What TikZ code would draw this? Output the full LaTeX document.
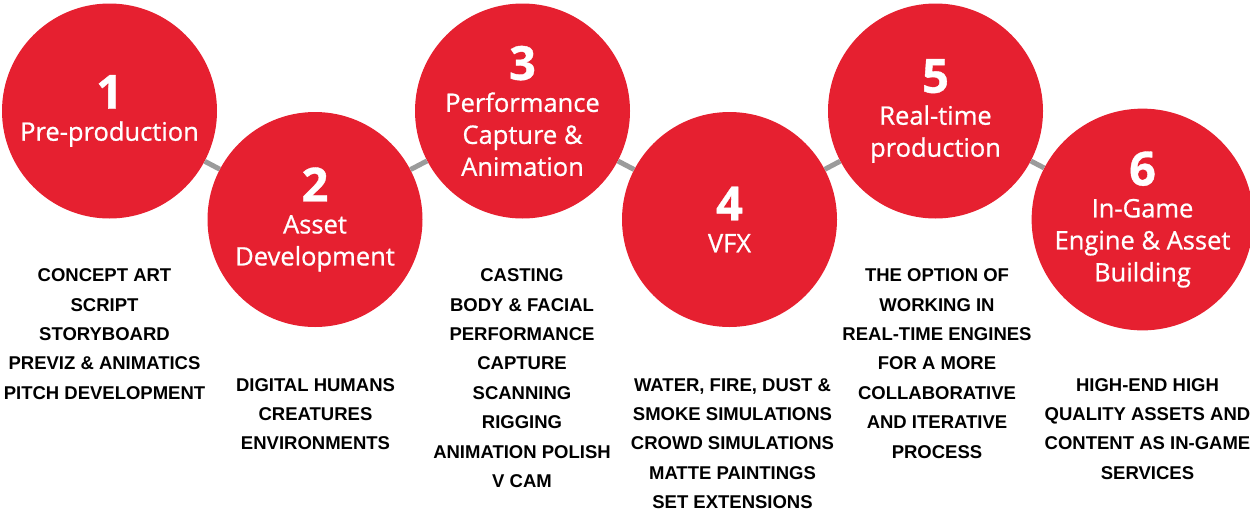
\documentclass[tikz,border=0pt]{standalone}
\usepackage{fontspec}
\setmainfont{Liberation Sans}
\newfontfamily\labelfont[FakeBold=0.8]{Open Sans}
\usetikzlibrary{calc}
\definecolor{stagered}{RGB}{230,32,48}
\definecolor{linkgray}{RGB}{155,155,155}
\newcommand\stagenum[1]{{\fontsize{47}{32}\selectfont\bfseries #1}}

\begin{document}
\begin{tikzpicture}
  [
    x=1pt, y=-1pt,
    stage/.style =
      {circle, fill=stagered, text=white, minimum size=215pt, inner sep=0pt,
       align=center, font=\labelfont\fontsize{25.5}{32}\selectfont},
    link/.style =
      {draw=linkgray, line width=5pt},
    notes/.style =
      {anchor=north, align=center, inner sep=0pt,
       font=\bfseries\fontsize{18.5}{29.4}\selectfont}
  ]

\useasboundingbox (0,0) rectangle (1250,517);

\node[stage] (c1) at (109.5,111)   {\stagenum{1}\\Pre-production};
\node[stage] (c2) at (315,219.5)   {\stagenum{2}\\Asset\\Development};
\node[stage] (c3) at (522.5,111)   {\stagenum{3}\\Performance\\Capture \&\\Animation};
\node[stage] (c4) at (729.5,219.5) {\stagenum{4}\\VFX};
\node[stage] (c5) at (935.5,111)   {\stagenum{5}\\Real-time\\production};
\node[stage] (c6) at (1142.5,219.5){\stagenum{6}\\In-Game\\Engine \& Asset\\Building};

\draw[link] (c1) -- (c2);
\draw[link] (c2) -- (c3);
\draw[link] (c3) -- (c4);
\draw[link] (c4) -- (c5);
\draw[link] (c5) -- (c6);

\node[notes] (n1) at (104.5,268.5)
  {CONCEPT ART\\SCRIPT\\STORYBOARD\\PREVIZ \& ANIMATICS\\PITCH DEVELOPMENT};
\node[notes] (n2) at (315.5,378)
  {DIGITAL HUMANS\\CREATURES\\ENVIRONMENTS};
\node[notes] (n3) at (522,268.5)
  {CASTING\\BODY \& FACIAL\\PERFORMANCE\\CAPTURE\\SCANNING\\RIGGING\\ANIMATION POLISH\\V CAM};
\node[notes] (n4) at (732.5,378)
  {WATER, FIRE, DUST \&\\SMOKE SIMULATIONS\\CROWD SIMULATIONS\\MATTE PAINTINGS\\SET EXTENSIONS};
\node[notes] (n5) at (937,268.5)
  {THE OPTION OF\\WORKING IN\\REAL-TIME ENGINES\\FOR A MORE\\COLLABORATIVE\\AND ITERATIVE\\PROCESS};
\node[notes] (n6) at (1147.5,378)
  {HIGH-END HIGH\\QUALITY ASSETS AND\\CONTENT AS IN-GAME\\SERVICES};

\end{tikzpicture}
\end{document}
